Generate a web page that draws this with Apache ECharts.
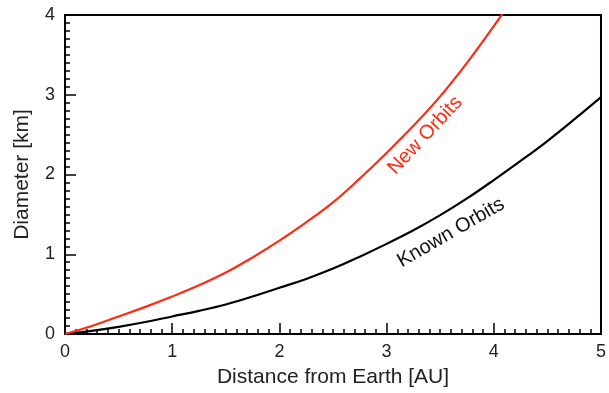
<!DOCTYPE html>
<html><head><meta charset="utf-8">
<script src="https://cdn.jsdelivr.net/npm/echarts@6/dist/echarts.min.js"></script>
<style>html,body{margin:0;padding:0;background:#fff}#c{width:609px;height:393px}</style>
</head><body><div id="c"></div>
<script>
const distance = [0,0.25,0.5,0.75,1,1.25,1.5,1.75,2,2.25,2.5,2.75,3,3.25,3.5,3.75,4,4.25,4.5,4.75,5];
const knownOrbits = [0,0.04,0.09,0.15,0.22,0.29,0.37,0.47,0.58,0.69,0.82,0.97,1.13,1.30,1.49,1.70,1.93,2.17,2.42,2.69,2.97];
const newOrbits = [0,0.10,0.22,0.34,0.47,0.61,0.77,0.96,1.17,1.40,1.65,1.95,2.27,2.61,2.98,3.40,3.86,4.35];
const xTicks = [0,1,2,3,4,5];
const yTicks = [0,1,2,3,4];
const labels = [
  {text:'New Orbits', x:3.36, y:2.49, angle:47, color:'#ff2a12'},
  {text:'Known Orbits', x:3.60, y:1.27, angle:30, color:'#111'}
];
const font = '"Liberation Sans", Arial, Helvetica, sans-serif';
const chart = echarts.init(document.getElementById('c'), null, {renderer:'canvas'});
const axCommon = {
  min:0, interval:1,
  axisLine:{show:true, lineStyle:{color:'#000', width:2}},
  axisTick:{show:true, inside:true, length:11, lineStyle:{color:'#000', width:1.5}},
  minorTick:{show:true, splitNumber:10, length:5, lineStyle:{color:'#000', width:1.5}},
  splitLine:{show:false}
};
const hidden = {axisLine:{show:false}, axisTick:{show:false}, minorTick:{show:false}, axisLabel:{show:false}};
const xMax = xTicks[xTicks.length-1], yMax = yTicks[yTicks.length-1];
chart.setOption({
  animation:false,
  backgroundColor:'#fff',
  grid:{left:65, right:7, top:15, bottom:57, containLabel:false},
  xAxis:[
    Object.assign({}, axCommon, {type:'value', max:xMax, position:'bottom',
      name:'Distance from Earth [AU]', nameLocation:'middle', nameGap:33,
      nameTextStyle:{fontFamily:font, fontSize:21, color:'#222'},
      axisLabel:{fontFamily:font, fontSize:18, color:'#222', margin:9,
        formatter:v=>xTicks.includes(v)?String(v):''}}),
    Object.assign({}, axCommon, {type:'value', max:xMax, position:'top'}, hidden)
  ],
  yAxis:[
    Object.assign({}, axCommon, {type:'value', max:yMax, position:'left',
      name:'Diameter [km]', nameLocation:'middle', nameGap:32, nameRotate:90,
      nameTextStyle:{fontFamily:font, fontSize:21, color:'#222'},
      axisLabel:{fontFamily:font, fontSize:18, color:'#222', margin:10,
        formatter:v=>yTicks.includes(v)?String(v):''}}),
    Object.assign({}, axCommon, {type:'value', max:yMax, position:'right'}, hidden)
  ],
  series:[
    {type:'line', smooth:0.4, symbol:'none', clip:true, xAxisIndex:0, yAxisIndex:0,
     data:distance.map((d,i)=>[d,knownOrbits[i]]), lineStyle:{color:'#000', width:2.2}},
    {type:'line', smooth:0.4, symbol:'none', clip:true, xAxisIndex:0, yAxisIndex:0,
     data:newOrbits.map((v,i)=>[distance[i],v]), lineStyle:{color:'#ff2a12', width:2.2}}
  ]
});
const tl = chart.convertToPixel({xAxisIndex:0,yAxisIndex:0},[0,yMax]);
const br = chart.convertToPixel({xAxisIndex:0,yAxisIndex:0},[xMax,0]);
const g = labels.map(l=>{
  const p = chart.convertToPixel({xAxisIndex:0,yAxisIndex:0},[l.x,l.y]);
  return {type:'text', x:p[0], y:p[1], rotation:l.angle*Math.PI/180,
    style:{text:l.text, fill:l.color, font:'20px '+font, align:'center', verticalAlign:'middle'}};
});
g.push({type:'rect', silent:true, z:-1,
  shape:{x:tl[0], y:tl[1], width:br[0]-tl[0], height:br[1]-tl[1]},
  style:{fill:'none', stroke:'#000', lineWidth:2}});
chart.setOption({graphic:g});
</script></body></html>
